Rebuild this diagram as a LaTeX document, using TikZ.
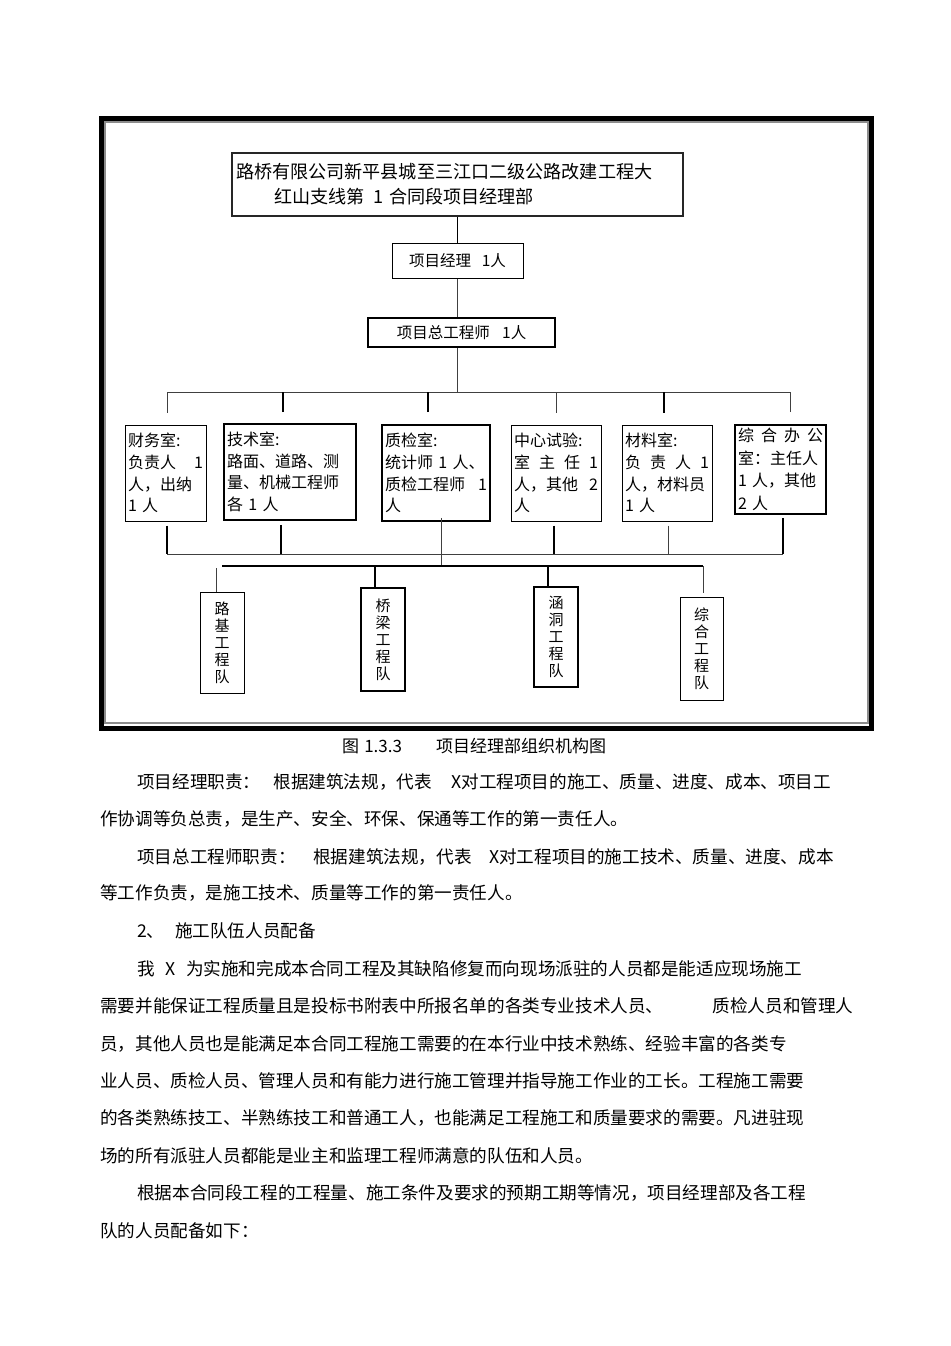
\documentclass[tikz,border=0pt]{standalone}
\usepackage{fontspec}
\setmainfont{Noto Sans CJK SC}
\usetikzlibrary{positioning,calc}

\begin{document}
\begin{tikzpicture}[x=1pt, y=-1pt,
  every node/.style={inner sep=0pt},
  box/.style={draw, line width=1pt},
  heavybox/.style={draw, line width=1.6pt},
  dept/.style={align=left, inner xsep=3pt, inner ysep=2pt,
               minimum height=96pt, font=\fontsize{16}{21.7}\selectfont},
  team/.style={align=center, minimum width=44pt, font=\fontsize{15}{17}\selectfont},
  link/.style={line width=1.6pt},
  thinlink/.style={line width=0.8pt, black!75},
  bodyline/.style={anchor=west, font=\fontsize{17.6}{20}\selectfont},
]
\useasboundingbox (0,0) rectangle (950,1346);
% outer frame
\draw[line width=5pt] (101.5,118.5) rectangle (871.5,728);
\draw[black!45, line width=2pt] (105,122) rectangle (868,723);
% top: department head and engineers
\node[heavybox, draw=black!85, minimum width=451pt, minimum height=63pt, text width=443pt,
      align=left, inner xsep=4pt, font=\fontsize{18.1}{25}\selectfont] (title) at (457.5,184.5)
  {路桥有限公司新平县城至三江口二级公路改建工程大\\\hspace*{2.1em}红山支线第\hspace{0.5em}1\hspace{0.3em}合同段项目经理部};
\node[box, minimum width=131pt, minimum height=35pt, font=\fontsize{15.5}{18}\selectfont] (pm)
  at (457.5,260.5) {项目经理\hspace{0.7em}1人};
\node[heavybox, minimum width=187pt, minimum height=29pt, font=\fontsize{15.5}{18}\selectfont] (chief)
  at (461.5,332.5) {项目总工程师\hspace{0.8em}1人};
% offices
\node[box, dept, minimum width=81pt, text width=75pt] (fin) at (165.5,473)
  {财务室:\\负责人\hfill 1\\人，出纳\\1 人};
\node[heavybox, dept, minimum width=132pt, text width=126pt] (tech) at (290,472)
  {技术室:\\路面、道路、测\\量、机械工程师\\各 1 人};
\node[heavybox, dept, minimum width=108pt, text width=102pt] (qc) at (436,473)
  {质检室:\\统计师 1 人、\\质检工程师\hfill 1\\人};
\node[box, dept, minimum width=90pt, text width=84pt] (lab) at (556,473)
  {中心试验:\\室\hfill 主\hfill 任\hfill 1\\人，其他\hfill 2\\人};
\node[box, dept, minimum width=90pt, text width=84pt] (mat) at (667,473)
  {材料室:\\负\hfill 责\hfill 人\hfill 1\\人，材料员\\1 人};
\node[heavybox, dept, minimum width=91pt, minimum height=89pt, text width=85pt,
      font=\fontsize{16}{22.5}\selectfont] (off) at (780.5,469.5)
  {综\hfill 合\hfill 办\hfill 公\\室：主任人\\1 人，其他\\2 人};
% work teams
\node[box, team, minimum height=101pt] (lu) at (222,642.5) {路\\基\\工\\程\\队};
\node[heavybox, team, minimum height=103pt] (qiao) at (383,639.5) {桥\\梁\\工\\程\\队};
\node[heavybox, team, minimum height=100pt] (han) at (556,637) {涵\\洞\\工\\程\\队};
\node[box, team, minimum width=43pt, minimum height=103pt] (zong) at (701.5,648.5) {综\\合\\工\\程\\队};
% connectors
\draw[link] (title.south) -- (pm.north);
\draw[thinlink] (pm.south) -- (pm.south |- chief.north);
\coordinate (busA) at (457.5,392);
\draw[thinlink] (pm.south |- chief.south) -- (busA);
\coordinate (finIn) at ($(fin.north)+(1.5,-12)$);
\coordinate (techIn) at ($(tech.north)+(-7,-11)$);
\coordinate (qcIn) at ($(qc.north)+(-8,-12)$);
\coordinate (labIn) at ($(lab.north)+(0,-12)$);
\coordinate (matIn) at ($(mat.north)+(-3,-12)$);
\coordinate (offIn) at ($(off.north)+(9.5,-12)$);
\draw[thinlink] (finIn |- busA) -- (offIn |- busA);
\draw[thinlink] (finIn) -- (finIn |- busA);
\draw[link] (techIn) -- (techIn |- busA);
\draw[link] (qcIn) -- (qcIn |- busA);
\draw[thinlink] (labIn) -- (labIn |- busA);
\draw[link] (matIn) -- (matIn |- busA);
\draw[thinlink] (offIn) -- (offIn |- busA);
\coordinate (busB) at (443,554);
\coordinate (finOut) at ($(fin.south)+(1.5,4)$);
\coordinate (techOut) at ($(tech.south)+(-9,4)$);
\coordinate (labOut) at ($(lab.south)+(-2,4)$);
\coordinate (matOut) at ($(mat.south)+(1,4)$);
\coordinate (offOut) at ($(off.south)+(2.5,3)$);
\draw[thinlink] (finOut |- busB) -- (offOut |- busB);
\draw[link] (finOut) -- (finOut |- busB);
\draw[link] (techOut) -- (techOut |- busB);
\draw[link] (labOut) -- (labOut |- busB);
\draw[thinlink] (matOut) -- (matOut |- busB);
\draw[link] (offOut) -- (offOut |- busB);
\coordinate (busC) at (441,566);
\draw[thinlink] ($(qc.south)+(5,-4)$) -- (busC);
\coordinate (luIn) at ($(lu.north)+(-6,0)$);
\coordinate (qiaoIn) at ($(qiao.north)+(-8,0)$);
\coordinate (hanIn) at ($(han.north)+(-8,0)$);
\coordinate (zongIn) at ($(zong.north)+(1.5,-4)$);
\draw[link] (busC -| lu) -- (busC -| zongIn);
\draw[thinlink] (luIn) -- ($(luIn |- busC)+(0,2)$);
\draw[link] (qiaoIn) -- (qiaoIn |- busC);
\draw[link] (hanIn) -- (hanIn |- busC);
\draw[thinlink] (zongIn) -- (zongIn |- busC);
% caption and body text
\node[bodyline, font=\fontsize{17}{20}\selectfont] (caption) at (342,746)
  {图\hspace{0.3em}1.3.3\hspace{2em}项目经理部组织机构图};
\node[bodyline] (p1) at (137,782) {项目经理职责：\hspace{0.75em}根据建筑法规，代表\hspace{1.1em}X对工程项目的施工、质量、进度、成本、项目工};
\node[bodyline] (p2) at (100,819) {作协调等负总责，是生产、安全、环保、保通等工作的第一责任人。};
\node[bodyline] (p3) at (137,857) {项目总工程师职责：\hspace{1em}根据建筑法规，代表\hspace{1em}X对工程项目的施工技术、质量、进度、成本};
\node[bodyline] (p4) at (100,893) {等工作负责，是施工技术、质量等工作的第一责任人。};
\node[bodyline] (p5) at (137,931) {2、\hspace{0.6em}施工队伍人员配备};
\node[bodyline] (p6) at (137,969) {我\hspace{0.6em}X\hspace{0.6em}为实施和完成本合同工程及其缺陷修复而向现场派驻的人员都是能适应现场施工};
\node[bodyline] (p7) at (100,1006) {需要并能保证工程质量且是投标书附表中所报名单的各类专业技术人员、\hspace{2.8em}质检人员和管理人};
\node[bodyline] (p8) at (100,1044) {员，其他人员也是能满足本合同工程施工需要的在本行业中技术熟练、经验丰富的各类专};
\node[bodyline] (p9) at (100,1081) {业人员、质检人员、管理人员和有能力进行施工管理并指导施工作业的工长。工程施工需要};
\node[bodyline] (p10) at (100,1118) {的各类熟练技工、半熟练技工和普通工人，也能满足工程施工和质量要求的需要。凡进驻现};
\node[bodyline] (p11) at (100,1156) {场的所有派驻人员都能是业主和监理工程师满意的队伍和人员。};
\node[bodyline] (p12) at (137,1193) {根据本合同段工程的工程量、施工条件及要求的预期工期等情况，项目经理部及各工程};
\node[bodyline] (p13) at (100,1231) {队的人员配备如下：};
\end{tikzpicture}
\end{document}
